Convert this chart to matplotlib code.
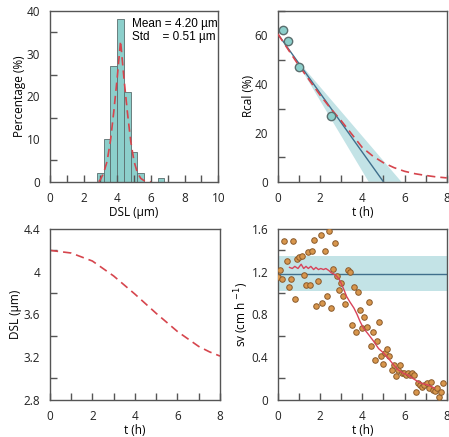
import numpy as np
import matplotlib.pyplot as plt
from matplotlib.ticker import MultipleLocator

plt.rcParams['font.family'] = ['Open Sans', 'DejaVu Sans']
plt.rcParams['font.size'] = 8

# histogram DSL
bin_left = [2.8, 3.2, 3.6, 4.0, 4.4, 4.8, 5.2, 6.4]
pct = [2, 10, 27, 38, 21, 7, 2, 1]
fit_x = [2.9, 3.0, 3.2, 3.4, 3.6, 3.8, 4.0, 4.2, 4.4, 4.6, 4.8, 5.0, 5.2, 5.4, 5.6, 5.8, 6.0]
fit_y = [0.0, 0.5, 2.1, 4.8, 9.6, 16.5, 24.3, 33.0, 24.3, 16.5, 9.6, 4.8, 2.1, 0.8, 0.25, 0.07, 0.0]

# Rcal vs t
rc_t = [0.25, 0.5, 1.0, 2.5]
rc_val = [62, 57.5, 47, 27]
rc_line_t = [0, 5.0]
rc_line_v = [60.5, 0]
band_t = [0.7, 4.3, 5.85]
band_v = [52, 0, 0]
rc_fit_t = [0, 0.5, 1, 1.5, 2, 2.5, 3, 3.5, 4, 4.5, 5, 5.5, 6, 6.5, 7, 7.5, 8]
rc_fit_v = [60.5, 54, 47.5, 41.5, 35.5, 30, 25, 19.5, 14, 10.5, 7.8, 5.8, 4.3, 3.3, 2.6, 2.0, 1.6]

# DSL vs t
dsl_t = [0, 1, 2, 3, 4, 5, 6, 7, 7.5, 8]
dsl_v = [4.2, 4.175, 4.10, 3.96, 3.79, 3.61, 3.44, 3.30, 3.25, 3.21]

# sv vs t
sv_t = [0.0, 0.11, 0.2, 0.31, 0.41, 0.52, 0.62, 0.7, 0.81, 0.91, 1.02, 1.14, 1.22, 1.31,
        1.41, 1.52, 1.61, 1.7, 1.81, 1.91, 2.02, 2.11, 2.22, 2.31, 2.42, 2.52, 2.61, 2.7,
        2.81, 2.91, 3.0, 3.09, 3.19, 3.3, 3.41, 3.5, 3.61, 3.7, 3.8, 3.91, 4.0, 4.09, 4.2,
        4.3, 4.39, 4.5, 4.59, 4.69, 4.78, 4.89, 5.0, 5.09, 5.19, 5.28, 5.39, 5.48, 5.58,
        5.67, 5.78, 5.88, 5.97, 6.06, 6.17, 6.27, 6.36, 6.45, 6.56, 6.66, 6.75, 6.84, 6.94,
        7.05, 7.14, 7.23, 7.33, 7.44, 7.53, 7.63, 7.72, 7.83]
sv_v = [1.15, 1.22, 1.13, 1.49, 1.30, 1.06, 1.13, 1.49, 0.94, 1.32, 1.34, 1.35, 1.17, 1.08,
        1.38, 1.08, 1.39, 1.50, 0.88, 1.11, 1.54, 0.91, 1.39, 0.97, 1.58, 0.86, 1.23, 1.47,
        1.16, 1.03, 1.09, 0.97, 0.90, 1.22, 1.20, 0.70, 1.06, 0.64, 1.01, 0.84, 0.67, 0.78,
        0.68, 0.92, 0.50, 0.64, 0.375, 0.55, 0.73, 0.41, 0.34, 0.44, 0.48, 0.41, 0.275, 0.33,
        0.22, 0.28, 0.33, 0.25, 0.25, 0.23, 0.25, 0.23, 0.25, 0.23, 0.07, 0.16, 0.14, 0.125,
        0.14, 0.16, 0.11, 0.17, 0.09, 0.08, 0.11, 0.03, 0.07, 0.16]
ma_t = [0.55, 0.68, 0.8, 0.95, 1.1, 1.22, 1.33, 1.44, 1.56, 1.69, 1.8, 1.92, 2.03, 2.16, 2.27,
        2.42, 2.53, 2.73, 2.9, 3.0, 3.13, 3.25, 3.4, 3.6, 3.75, 3.9, 4.06, 4.3, 4.53, 4.77,
        5.0, 5.23, 5.47, 5.7, 5.94, 6.17, 6.4, 6.64, 6.88, 7.1, 7.27, 7.42]
ma_v = [1.24, 1.23, 1.25, 1.23, 1.27, 1.23, 1.25, 1.23, 1.25, 1.22, 1.24, 1.22, 1.23, 1.22,
        1.23, 1.21, 1.19, 1.17, 1.13, 1.09, 1.03, 0.97, 0.92, 0.86, 0.80, 0.73, 0.67, 0.61,
        0.55, 0.48, 0.44, 0.39, 0.33, 0.28, 0.25, 0.23, 0.20, 0.17, 0.15, 0.14, 0.125, 0.11]
sv_mean = 1.18
sv_lo, sv_hi = 1.02, 1.35

teal = '#8ccfcb'
band = '#c3e3e6'
edge = '#5a6e6e'
red = '#d6454d'
blue = '#3f6f8c'
grey = '#555555'

fig = plt.figure(figsize=(4.49, 4.37), dpi=100)
ax1 = fig.add_axes([0.111, 0.584, 0.375, 0.391])
ax2 = fig.add_axes([0.619, 0.584, 0.376, 0.391])
ax3 = fig.add_axes([0.111, 0.085, 0.379, 0.391])
ax4 = fig.add_axes([0.619, 0.085, 0.376, 0.391])


def style(ax, xmax, ymin, ymax, ystep, yfmt=None):
    ax.set_xlim(0, xmax)
    ax.set_ylim(ymin, ymax)
    ax.xaxis.set_major_locator(MultipleLocator(2))
    ax.xaxis.set_minor_locator(MultipleLocator(1))
    ax.yaxis.set_major_locator(MultipleLocator(ystep))
    ax.yaxis.set_minor_locator(MultipleLocator(ystep / 2))
    ax.tick_params(which='both', direction='in', color=grey, width=1, labelcolor='#222222', labelsize=8.5)
    ax.tick_params(axis='x', which='both', length=5, pad=7)
    ax.tick_params(axis='y', which='major', length=0, pad=7)
    ax.tick_params(axis='y', which='minor', length=5)
    for s in ax.spines.values():
        s.set_color(grey)
        s.set_linewidth(1)
    if yfmt:
        ax.yaxis.set_major_formatter(yfmt)


# top left
ax1.bar(bin_left, pct, width=0.4, align='edge', color=teal, edgecolor=edge, linewidth=0.6)
ax1.plot(fit_x, fit_y, '--', color=red, lw=1.2, dashes=(5, 3))
style(ax1, 10, 0, 40, 10)
ax1.set_xlabel('DSL (µm)', labelpad=1, fontsize=8.5)
ax1.set_ylabel('Percentage (%)', labelpad=0, fontsize=8.5)
ax1.text(0.49, 0.905, 'Mean = 4.20 µm', transform=ax1.transAxes, fontsize=8.5,
         family=['Liberation Sans', 'DejaVu Sans'])
ax1.text(0.49, 0.83, 'Std    = 0.51 µm', transform=ax1.transAxes, fontsize=8.5,
         family=['Liberation Sans', 'DejaVu Sans'])

# top right
ax2.fill(band_t, band_v, color=band, lw=0, zorder=1)
ax2.plot(rc_line_t, rc_line_v, color=blue, lw=1, zorder=2)
ax2.plot(rc_fit_t, rc_fit_v, '--', color=red, lw=1.2, dashes=(5, 3), zorder=3)
ax2.plot(rc_t, rc_val, 'o', ms=6, mfc=teal, mec=edge, mew=1, zorder=4, clip_on=False)
style(ax2, 8, 0, 70, 20)
ax2.set_xlabel('t (h)', labelpad=1, fontsize=8.5)
ax2.set_ylabel('Rcal (%)', labelpad=0, fontsize=8.5)

# bottom left
ax3.plot(dsl_t, dsl_v, '--', color=red, lw=1.2, dashes=(5, 3))
style(ax3, 8, 2.8, 4.4, 0.4, yfmt=plt.FuncFormatter(lambda v, p: f'{v:g}'))
ax3.set_xlabel('t (h)', labelpad=1, fontsize=8.5)
ax3.set_ylabel('DSL (µm)', labelpad=1, fontsize=8.5)

# bottom right
ax4.axhspan(sv_lo, sv_hi, color=band, lw=0, zorder=1)
ax4.axhline(sv_mean, color=blue, lw=1, zorder=2)
ax4.scatter(sv_t, sv_v, s=16, c='#d8964c', edgecolors='#8a5a2b', linewidths=0.7, zorder=3)
ax4.plot(ma_t, ma_v, color='#d8435a', lw=1, zorder=4)
style(ax4, 8, 0, 1.6, 0.4, yfmt=plt.FuncFormatter(lambda v, p: f'{v:g}'))
ax4.set_xlabel('t (h)', labelpad=1, fontsize=8.5)
ax4.set_ylabel('sv (cm h $^{-1}$)', labelpad=0, fontsize=8.5)

fig.savefig('out.png', dpi=100)
